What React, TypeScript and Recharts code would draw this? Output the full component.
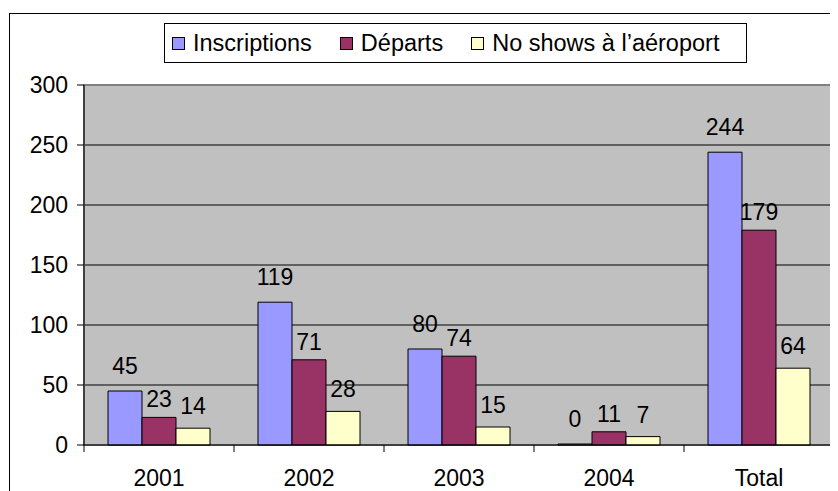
import React from 'react';
import {
  BarChart,
  Bar,
  XAxis,
  YAxis,
  CartesianGrid,
  LabelList,
  Legend,
  ReferenceArea,
} from 'recharts';

const categories = ['2001', '2002', '2003', '2004', 'Total'];
const inscriptions = [45, 119, 80, 0, 244];
const departs = [23, 71, 74, 11, 179];
const noShows = [14, 28, 15, 7, 64];
const yTicks = [0, 50, 100, 150, 200, 250, 300];
const seriesKeys = ['inscriptions', 'departs', 'noShows'];
const seriesNames = ['Inscriptions', 'Départs', 'No shows à l’aéroport'];
const seriesColors = ['#9999FF', '#993366', '#FFFFCC'];

const data = categories.map((c, i) => ({
  category: c,
  inscriptions: inscriptions[i],
  departs: departs[i],
  noShows: noShows[i],
}));

const FONT = '"Liberation Sans", Arial, sans-serif';
const FS = 23;

const XTick = (props: any) => {
  const { x, y, payload, index, width } = props;
  const bw = (width ?? 750) / categories.length;
  const isLast = index === categories.length - 1;
  return (
    <g>
      <line x1={x - bw / 2} y1={y} x2={x - bw / 2} y2={y + 7} stroke="#000" strokeWidth={1} />
      {isLast && (
        <line x1={x + bw / 2} y1={y} x2={x + bw / 2} y2={y + 7} stroke="#000" strokeWidth={1} />
      )}
      <text
        x={x}
        y={y + 25}
        dy="0.71em"
        textAnchor="middle"
        fill="#000"
        fontSize={FS}
        fontFamily={FONT}
      >
        {payload.value}
      </text>
    </g>
  );
};

const LegendContent = () => (
  <div
    style={{
      display: 'flex',
      alignItems: 'center',
      justifyContent: 'flex-start',
      paddingLeft: 7,
      height: '100%',
      fontFamily: FONT,
      fontSize: 23.5,
      color: '#000',
      whiteSpace: 'nowrap',
    }}
  >
    {seriesNames.map((n, i) => (
      <div
        key={n}
        style={{ display: 'flex', alignItems: 'center', marginLeft: i === 0 ? 0 : 28 }}
      >
        <span
          style={{
            display: 'inline-block',
            width: 11,
            height: 11,
            border: '1px solid #000',
            background: seriesColors[i],
            marginRight: 8,
          }}
        />
        <span>{n}</span>
      </div>
    ))}
  </div>
);

const labelOffsets = [17, 10, 14];

export default function App() {
  return (
    <div style={{ position: 'relative', width: 830, height: 483, overflow: 'hidden', background: '#fff' }}>
      <div
        style={{
          position: 'absolute',
          left: 1,
          top: 5,
          width: 900,
          height: 600,
          border: '1px solid #000',
          boxSizing: 'border-box',
        }}
      />
      <div style={{ position: 'absolute', left: 0, top: 0 }}>
        <BarChart
          width={830}
          height={483}
          data={data}
          margin={{ top: 77, right: 4, bottom: 0, left: 0 }}
          barCategoryGap="16%"
          barGap={0}
        >
          <CartesianGrid
            horizontal
            vertical={false}
            stroke="#000"
            fill="#C0C0C0"
            fillOpacity={1}
          />
          <ReferenceArea
            y1={0}
            y2={300}
            fill="none"
            stroke="#808080"
            strokeWidth={2}
            ifOverflow="visible"
          />
          <XAxis
            dataKey="category"
            height={46}
            tickSize={0}
            tickMargin={0}
            tickLine={false}
            axisLine={{ stroke: '#000', strokeWidth: 1 }}
            tick={<XTick />}
            interval={0}
          />
          <YAxis
            width={76}
            domain={[0, 300]}
            ticks={yTicks}
            tickSize={7}
            tickMargin={9}
            axisLine={{ stroke: '#000', strokeWidth: 1 }}
            tickLine={{ stroke: '#000', strokeWidth: 1 }}
            tick={{ fill: '#000', fontSize: FS, fontFamily: FONT }}
            interval={0}
          />
          <Legend
            layout="horizontal"
            verticalAlign="middle"
            align="center"
            content={<LegendContent />}
            wrapperStyle={{
              left: 156,
              top: 15,
              width: 583,
              height: 40,
              border: '1px solid #000',
              boxSizing: 'border-box',
              background: '#fff',
            }}
          />
          {seriesKeys.map((k, i) => (
            <Bar
              key={k}
              dataKey={k}
              name={seriesNames[i]}
              fill={seriesColors[i]}
              stroke="#000"
              strokeWidth={1}
              minPointSize={i === 0 ? 1 : 0}
              isAnimationActive={false}
            >
              <LabelList
                dataKey={k}
                position="top"
                offset={labelOffsets[i]}
                fill="#000"
                fontSize={FS}
                fontFamily={FONT}
              />
            </Bar>
          ))}
        </BarChart>
      </div>
    </div>
  );
}
